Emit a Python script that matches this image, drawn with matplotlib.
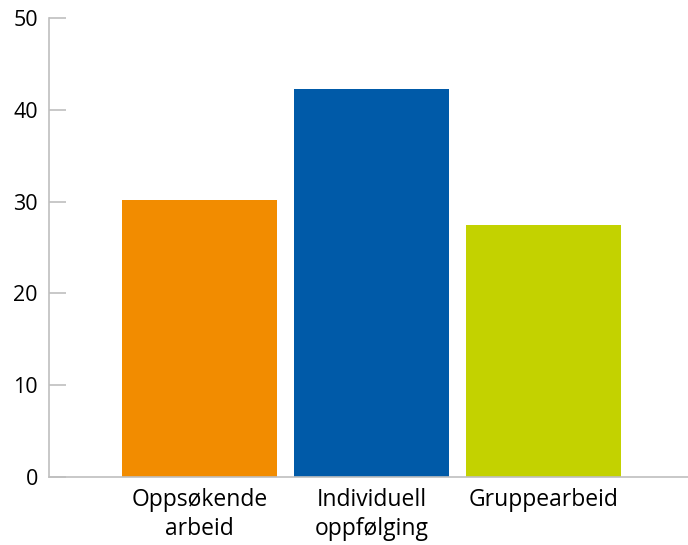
import matplotlib
matplotlib.use('agg')
import matplotlib.pyplot as plt

# Data
categories = ["Oppsøkende\narbeid", "Individuell\noppfølging", "Gruppearbeid"]
values = [30.2, 42.3, 27.5]
colors = ["#F28C00", "#005AA8", "#C3D200"]
yticks = [0, 10, 20, 30, 40, 50]

plt.rcParams["font.family"] = ["Open Sans", "DejaVu Sans"]

fig = plt.figure(figsize=(6.88, 5.45), dpi=100)
ax = fig.add_axes([49 / 688, 68 / 545, 1 - 49 / 688, (477 - 18) / 545])

x = list(range(len(categories)))
ax.bar(x, values, width=0.9, color=colors)

ax.set_xlim(-0.875, 2.84)
ax.set_ylim(0, 50)
ax.set_yticks(yticks)
ax.set_xticks(x)
ax.set_xticklabels(categories, fontsize=16.5, linespacing=1.25)
ax.yaxis.set_tick_params(direction='in', length=12, width=1.2, color="#BFBFBF",
                         labelsize=15.5, pad=8)
ax.xaxis.set_tick_params(length=0, pad=8)

for s in ["top", "right"]:
    ax.spines[s].set_visible(False)
for s in ["left", "bottom"]:
    ax.spines[s].set_color("#BFBFBF")
    ax.spines[s].set_linewidth(1.2)

fig.savefig("out.png", dpi=100)
